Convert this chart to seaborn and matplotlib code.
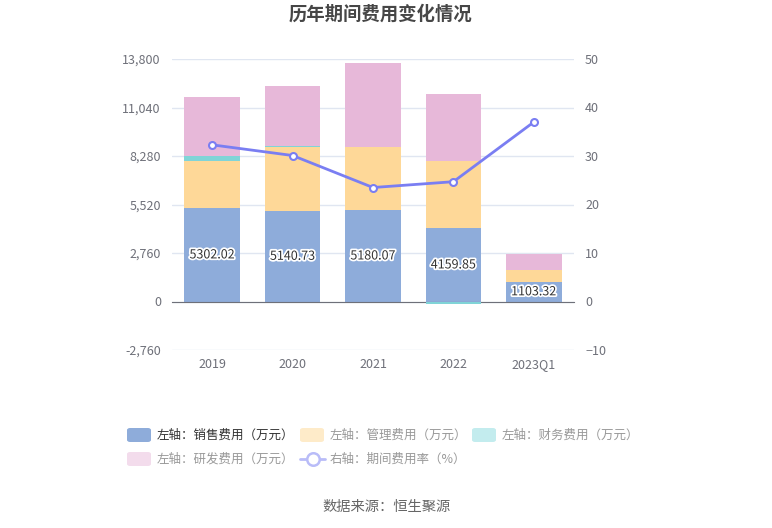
import numpy as np
import pandas as pd
import matplotlib
matplotlib.use("Agg")
import matplotlib.pyplot as plt
import matplotlib.patheffects as pe
from matplotlib.patches import FancyBboxPatch
from matplotlib.lines import Line2D
from matplotlib.ticker import FuncFormatter
import seaborn as sns

# data
years = ["2019", "2020", "2021", "2022", "2023Q1"]
sales = [5302.02, 5140.73, 5180.07, 4159.85, 1103.32]
admin = [2705, 3645, 3606, 3847, 675]
finance = [245, 57, -50, -160, -40]
rnd = [3373, 3441, 4787, 3823, 908]
rate = [32.3, 30.1, 23.5, 24.7, 37.0]

sns.set_style("white")
plt.rcParams["font.family"] = ["Noto Sans CJK SC", "DejaVu Sans"]

c_sales = "#8eacda"
c_admin = "#fed898"
c_fin = "#80d4d7"
c_rnd = "#e7b8d9"
c_line = "#7a7ef2"
grey = "#6e7079"

df = pd.DataFrame({"year": years, "sales": sales, "admin": admin,
                   "finance": finance, "rnd": rnd, "rate": rate})
fin_pos = df["finance"].clip(lower=0)
df["top_sales"] = df["sales"]
df["top_admin"] = df["sales"] + df["admin"]
df["top_fin"] = df["top_admin"] + fin_pos
df["top_rnd"] = df["top_fin"] + df["rnd"]
df["fin_neg"] = df["finance"].clip(upper=0)

W, H = 772, 528
fig = plt.figure(figsize=(W / 100, H / 100), dpi=100)
ax = fig.add_axes([172 / W, 1 - 350 / H, (574 - 172) / W, (350 - 59) / H])

bw = 0.69
for col, c in [("top_rnd", c_rnd), ("top_fin", c_fin), ("top_admin", c_admin),
               ("top_sales", c_sales)]:
    sns.barplot(data=df, x="year", y=col, color=c, saturation=1, width=bw,
                linewidth=0, ax=ax, zorder=3, order=years)
# negative finance costs stack below zero, drawn over the axis line
sns.barplot(data=df, x="year", y="fin_neg", color=c_fin, saturation=1, width=bw,
            linewidth=0, ax=ax, zorder=6, order=years)

for i, v in enumerate(sales):
    ax.text(i, v / 2, f"{v:.2f}", ha="center", va="center", fontsize=9,
            color="#333333", zorder=6,
            path_effects=[pe.withStroke(linewidth=2.5, foreground="white")])

ax.set_ylim(-2760, 13800)
ax.set_yticks(np.arange(-2760, 13801, 2760))
ax.yaxis.set_major_formatter(FuncFormatter(lambda v, p: f"{int(round(v)):,}"))
ax.set_xlim(-0.5, 4.5)
ax.set_xlabel("")
ax.set_ylabel("")
ax.grid(axis="y", color="#e0e6f1", linewidth=1, zorder=0)
ax.set_axisbelow(True)
for s in ["top", "right", "left"]:
    ax.spines[s].set_visible(False)
ax.spines["bottom"].set_position(("data", 0))
ax.spines["bottom"].set_color(grey)
ax.spines["bottom"].set_zorder(5)
ax.tick_params(axis="x", length=5, color=grey, direction="out", pad=36,
               labelsize=9, labelcolor=grey)
ax.tick_params(axis="y", length=0, pad=8, labelsize=9, labelcolor=grey)

ax2 = ax.twinx()
sns.lineplot(x=np.arange(len(years)), y=rate, ax=ax2, color=c_line, linewidth=2,
             marker="o", markersize=5, markerfacecolor="white",
             markeredgecolor=c_line, markeredgewidth=1.5, zorder=7)
ax2.set_ylim(-10, 50)
ax2.set_yticks(np.arange(-10, 51, 10))
ax2.set_xlim(-0.5, 4.5)
for s in ax2.spines.values():
    s.set_visible(False)
ax2.tick_params(axis="y", length=0, pad=8, labelsize=9, labelcolor=grey)

fig.text(380 / W, 1 - 14 / H, "历年期间费用变化情况", ha="center", va="center",
         fontsize=13.2, fontweight="bold", color="#464646")
fig.text(387 / W, 1 - 507 / H, "数据来源：恒生聚源", ha="center", va="center",
         fontsize=10.3, color="#666666")

# legend (first item active, others faded as in the reference)
items = [
    ("box", "#8eacda", "左轴：销售费用（万元）", "#333333", 127, 435),
    ("box", "#feebc9", "左轴：管理费用（万元）", "#999999", 300, 435),
    ("box", "#c3ecee", "左轴：财务费用（万元）", "#999999", 472, 435),
    ("box", "#f3dcec", "左轴：研发费用（万元）", "#999999", 127, 459),
    ("line", "#b9bcf8", "右轴：期间费用率（%）", "#999999", 300, 459),
]
for kind, c, label, tc, x0, yc in items:
    if kind == "box":
        fig.add_artist(FancyBboxPatch((x0 / W, 1 - (yc + 7) / H), 24 / W, 14 / H,
                                      boxstyle="round,pad=0,rounding_size=0.004",
                                      transform=fig.transFigure, facecolor=c,
                                      edgecolor="none"))
    else:
        fig.add_artist(Line2D([x0 / W, (x0 + 25) / W], [1 - yc / H, 1 - yc / H],
                              transform=fig.transFigure, color=c, linewidth=2))
        fig.add_artist(Line2D([(x0 + 12.5) / W], [1 - yc / H], transform=fig.transFigure,
                              marker="o", markersize=9, markerfacecolor="white",
                              markeredgecolor=c, markeredgewidth=1.8))
    fig.text((x0 + 30) / W, 1 - yc / H, label, ha="left", va="center",
             fontsize=9, color=tc)

fig.savefig("out.png", dpi=100)
